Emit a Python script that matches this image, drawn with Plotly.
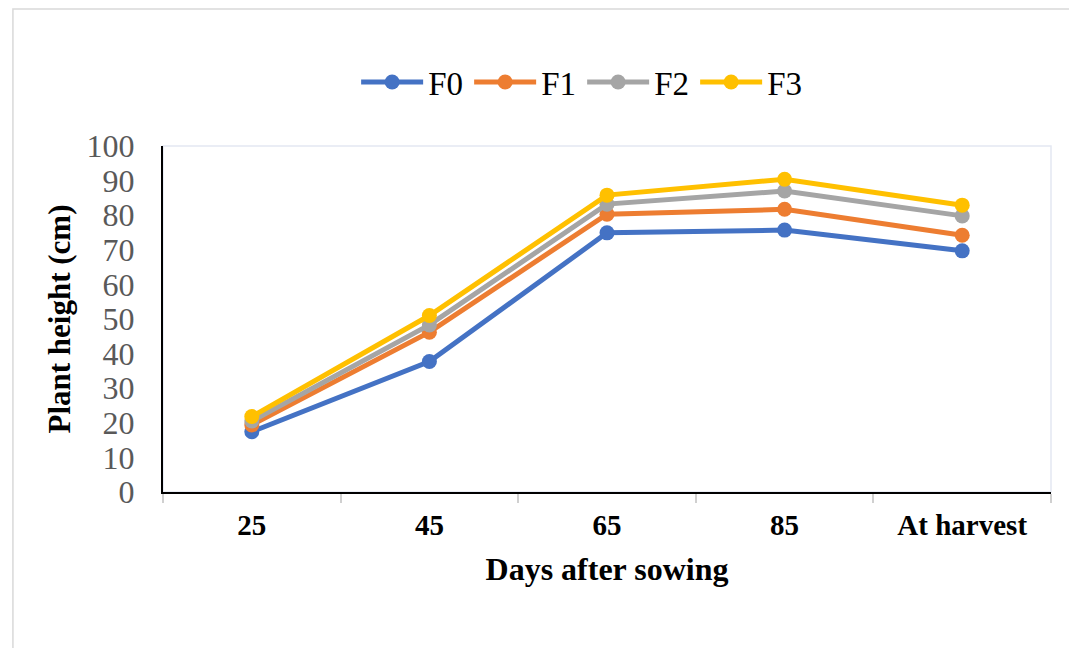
import plotly.graph_objects as go

categories = ["25", "45", "65", "85", "At harvest"]
F0 = [17.4, 37.7, 74.9, 75.7, 69.7]
F1 = [19.4, 46.2, 80.3, 81.7, 74.2]
F2 = [20.5, 48.3, 83.2, 87.0, 79.8]
F3 = [21.8, 51.0, 85.8, 90.4, 82.9]
series = {"F0": F0, "F1": F1, "F2": F2, "F3": F3}
colors = {"F0": "#4472C4", "F1": "#ED7D31", "F2": "#A5A5A5", "F3": "#FFC000"}

fig = go.Figure()
for name, vals in series.items():
    fig.add_trace(go.Scatter(
        x=categories, y=vals, name=name, mode="lines+markers",
        line=dict(color=colors[name], width=5),
        marker=dict(color=colors[name], size=15),
    ))

FONT = "Liberation Serif"

fig.update_layout(
    width=1069, height=640,
    margin=dict(l=155, r=26, t=138, b=156),
    paper_bgcolor="white", plot_bgcolor="white",
    font=dict(family=FONT, color="black"),
    showlegend=True,
    legend=dict(orientation="h", x=0.472, xanchor="center", y=1.185, yanchor="middle",
                font=dict(family=FONT, size=33, color="black"),
                entrywidth=36, entrywidthmode="pixels",
                itemwidth=62, tracegroupgap=0, bgcolor="rgba(0,0,0,0)"),
    xaxis=dict(
        type="category", tickson="boundaries", ticks="outside", ticklen=9,
        tickcolor="#d0d0d0", tickwidth=1.5,
        showline=True, linecolor="black", linewidth=2, showgrid=False,
        tickfont=dict(family=FONT, size=29, color="black", weight="bold"),
        ticklabelstandoff=6,
        title=dict(text="<b>Days after sowing</b>", font=dict(family=FONT, size=32, color="black"), standoff=18),
        range=[-0.5, 4.5],
    ),
    yaxis=dict(
        range=[0, 100], dtick=10, ticks="", showgrid=False,
        showline=True, linecolor="black", linewidth=2, zeroline=False,
        tickfont=dict(family=FONT, size=32, color="#595959"),
        ticklabelstandoff=20,
        title=dict(text="<b>Plant height (cm)</b>", font=dict(family=FONT, size=31, color="black"), standoff=7),
    ),
    shapes=[
        dict(type="rect", xref="paper", yref="paper", x0=0, x1=1, y0=0, y1=1,
             line=dict(color="#e4e8f2", width=1.5), layer="below"),
        dict(type="rect", xref="paper", yref="paper", x0=-0.169, x1=1.04, y0=-0.47, y1=1.396,
             line=dict(color="#d9d9d9", width=1.5), layer="below"),
    ],
)

fig.write_html("out.html")
